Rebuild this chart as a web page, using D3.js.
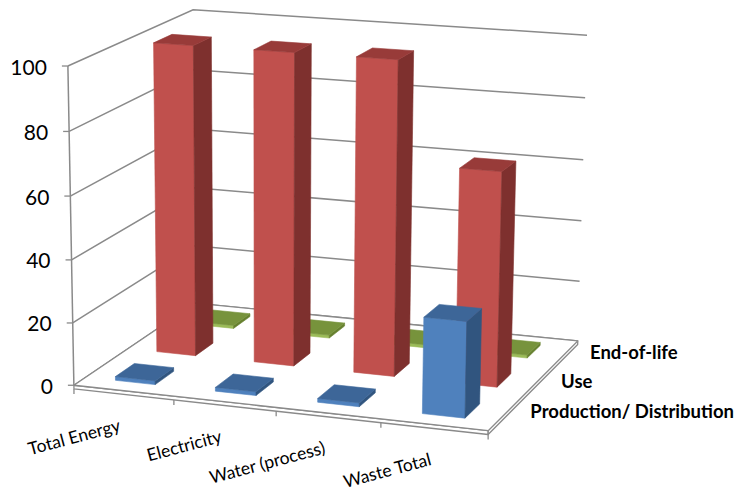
<!DOCTYPE html>
<html>
<head>
<meta charset="utf-8">
<script src="https://cdn.jsdelivr.net/npm/d3@7"></script>
<style>
  body { margin: 0; background: #fff; }
  svg { display: block; }
  text { font-family: Lato, "Liberation Sans", sans-serif; fill: #000; }
</style>
</head>
<body>
<svg id="chart" width="753" height="496"></svg>
<script>
// ── Data ──────────────────────────────────────────────────────────────────
const categories = ['Total Energy', 'Electricity', 'Water (process)', 'Waste Total'];
const series     = ['Production/ Distribution', 'Use', 'End-of-life'];   // front row to back row
const prodValues = [1.2, 1.2, 1.2, 30];
const useValues  = [100, 100, 100, 68];
const eolValues  = [1, 1, 1, 1];
const valueTicks = [0, 20, 40, 60, 80, 100];

const seriesValues = [prodValues, useValues, eolValues];
const seriesShades = [
  { front: '#4f81bd', side: '#31557f', top: '#3d6698' },
  { front: '#c0504d', side: '#7e302e', top: '#983b39' },
  { front: '#9bbb59', side: '#66802f', top: '#77933c' }
];

// ── Camera: where the corners of the unit plot box land on the page ──────
// [x, y, z, px, py]  x → right along categories, y → up, z → back
const frameAnchors = [
  [0, 0, 0,  74, 383],
  [1, 0, 0, 488, 433],
  [1, 0, 1, 578, 338],
  [0, 0, 1, 195, 306],
  [0, 1, 0,  68,  66],
  [0, 1, 1, 193,   9],
  [1, 1, 1, 587,  36]
];

function fitCamera(pts) {
  const S = 500;
  const A = [], b = [];
  pts.forEach(([X, Y, Z, u, v]) => {
    u /= S; v /= S;
    A.push([X, Y, Z, 1, 0, 0, 0, 0, -u * X, -u * Y, -u * Z]); b.push(u);
    A.push([0, 0, 0, 0, X, Y, Z, 1, -v * X, -v * Y, -v * Z]); b.push(v);
  });
  const n = 11;
  const M = d3.range(n).map(i => d3.range(n + 1).map(j => {
    let s = 0;
    for (let k = 0; k < A.length; k++) s += A[k][i] * (j < n ? A[k][j] : b[k]);
    return s;
  }));
  for (let c = 0; c < n; c++) {
    let p = c;
    for (let r = c + 1; r < n; r++) if (Math.abs(M[r][c]) > Math.abs(M[p][c])) p = r;
    [M[c], M[p]] = [M[p], M[c]];
    for (let r = 0; r < n; r++) {
      if (r === c) continue;
      const f = M[r][c] / M[c][c];
      for (let k = c; k <= n; k++) M[r][k] -= f * M[c][k];
    }
  }
  const h = M.map((row, i) => row[n] / row[i]);
  return (X, Y, Z) => {
    const w = h[8] * X + h[9] * Y + h[10] * Z + 1;
    return [S * (h[0] * X + h[1] * Y + h[2] * Z + h[3]) / w,
            S * (h[4] * X + h[5] * Y + h[6] * Z + h[7]) / w];
  };
}

const P = fitCamera(frameAnchors);

// ── Scales (all map into the unit box) ────────────────────────────────────
const x = d3.scaleBand().domain(categories).range([0, 1]).paddingInner(0.6).paddingOuter(0.3);
const z = d3.scaleBand().domain(series).range([0, 1]).paddingInner(0.55).paddingOuter(0.275);
const y = d3.scaleLinear().domain([0, 100]).range([0, 1]);
const xEdge = d3.scaleLinear().domain([0, categories.length]).range([0, 1]);
const zEdge = d3.scaleLinear().domain([0, series.length]).range([0, 1]);

const FLOOR = -1.2;   // floor slab thickness, in value units
const GRID  = '#8a8a8a';

const svg = d3.select('#chart');
const pts = arr => arr.map(p => p.join(',')).join(' ');

// ── Walls + gridlines ─────────────────────────────────────────────────────
svg.append('g')
  .selectAll('polyline')
  .data(valueTicks)
  .join('polyline')
  .attr('points', t => pts([P(0, y(t), 0), P(0, y(t), 1), P(1, y(t), 1)]))
  .attr('fill', 'none')
  .attr('stroke', GRID)
  .attr('stroke-width', 1.5);

// ── Floor slab ────────────────────────────────────────────────────────────
const f0 = y(0), f1 = y(FLOOR);
const floor = svg.append('g')
  .attr('fill', '#fff')
  .attr('stroke', GRID)
  .attr('stroke-width', 1.3)
  .attr('stroke-linejoin', 'round');
floor.append('polygon').attr('points', pts([P(0, f0, 0), P(1, f0, 0), P(1, f1, 0), P(0, f1, 0)]));
floor.append('polygon').attr('points', pts([P(1, f0, 0), P(1, f0, 1), P(1, f1, 1), P(1, f1, 0)]));
floor.append('polygon').attr('points', pts([P(0, f0, 0), P(1, f0, 0), P(1, f0, 1), P(0, f0, 1)]));

// Category tick marks along the front edge
svg.append('g')
  .selectAll('line')
  .data(d3.range(categories.length + 1))
  .join('line')
  .each(function (i) {
    const [px, py] = P(xEdge(i), f1, 0);
    d3.select(this).attr('x1', px).attr('y1', py).attr('x2', px).attr('y2', py + 5);
  })
  .attr('stroke', GRID)
  .attr('stroke-width', 1.3);

// ── Value axis ────────────────────────────────────────────────────────────
const axisG = svg.append('g');
axisG.append('line')
  .attr('x1', P(0, y(0), 0)[0]).attr('y1', P(0, y(0), 0)[1])
  .attr('x2', P(0, y(100), 0)[0]).attr('y2', P(0, y(100), 0)[1])
  .attr('stroke', GRID)
  .attr('stroke-width', 1.5);

axisG.selectAll('.tick')
  .data(valueTicks)
  .join('line')
  .attr('class', 'tick')
  .attr('x1', t => P(0, y(t), 0)[0] - 6)
  .attr('x2', t => P(0, y(t), 0)[0])
  .attr('y1', t => P(0, y(t), 0)[1])
  .attr('y2', t => P(0, y(t), 0)[1])
  .attr('stroke', GRID)
  .attr('stroke-width', 1.3);

axisG.selectAll('.tick-label')
  .data(valueTicks)
  .join('text')
  .attr('class', 'tick-label')
  .attr('x', t => P(0, y(t), 0)[0] - 21)
  .attr('y', t => P(0, y(t), 0)[1])
  .attr('text-anchor', 'end')
  .attr('dominant-baseline', 'central')
  .style('font-size', '21px')
  .text(t => t);

// ── Bars (3D boxes) ───────────────────────────────────────────────────────
function boxFaces(x0, x1, y0, y1, z0, z1) {
  return [
    { kind: 'front',  v: [P(x0, y0, z0), P(x0, y1, z0), P(x1, y1, z0), P(x1, y0, z0)] },
    { kind: 'back',   v: [P(x0, y0, z1), P(x1, y0, z1), P(x1, y1, z1), P(x0, y1, z1)] },
    { kind: 'side',   v: [P(x0, y0, z0), P(x0, y0, z1), P(x0, y1, z1), P(x0, y1, z0)] },
    { kind: 'side',   v: [P(x1, y0, z0), P(x1, y1, z0), P(x1, y1, z1), P(x1, y0, z1)] },
    { kind: 'top',    v: [P(x0, y1, z0), P(x0, y1, z1), P(x1, y1, z1), P(x1, y1, z0)] },
    { kind: 'bottom', v: [P(x0, y0, z0), P(x1, y0, z0), P(x1, y0, z1), P(x0, y0, z1)] }
  ];
}

const bars = [];
series.forEach((s, si) => {
  categories.forEach((cat, ci) => {
    bars.push({ si, ci, value: seriesValues[si][ci] });
  });
});
bars.sort((a, b) => b.si - a.si || a.ci - b.ci);   // back rows first

const barG = svg.append('g');
bars.forEach(d => {
  const x0 = x(categories[d.ci]), x1 = x0 + x.bandwidth();
  const z0 = z(series[d.si]),     z1 = z0 + z.bandwidth();
  const faces = boxFaces(x0, x1, y(0), y(d.value), z0, z1);
  const frontSign = Math.sign(d3.polygonArea(faces[0].v));
  const shade = seriesShades[d.si];
  faces
    .filter(f => Math.sign(d3.polygonArea(f.v)) === frontSign && f.kind !== 'back' && f.kind !== 'bottom')
    .forEach(f => {
      barG.append('polygon')
        .attr('points', pts(f.v))
        .attr('fill', shade[f.kind])
        .attr('stroke', shade[f.kind])
        .attr('stroke-width', 0.6)
        .attr('stroke-linejoin', 'round');
    });
});

// ── Category labels ───────────────────────────────────────────────────────
svg.append('g')
  .selectAll('text')
  .data(categories)
  .join('text')
  .attr('transform', (c, i) => {
    const [px, py] = P(xEdge(i + 0.5), y(0), 0);
    return `translate(${px - 2},${py + 40}) rotate(-15)`;
  })
  .attr('text-anchor', 'end')
  .style('font-size', '17.5px')
  .text(c => c);

// ── Series labels along the right edge of the floor ───────────────────────
svg.append('g')
  .selectAll('text')
  .data(series)
  .join('text')
  .attr('x', (s, i) => P(1, y(0), zEdge(i + 0.5))[0] + 26)
  .attr('y', (s, i) => P(1, y(0), zEdge(i + 0.5))[1] - 3)
  .attr('dominant-baseline', 'central')
  .style('font-size', '18.5px')
  .style('font-weight', 'bold')
  .text(s => s);
</script>
</body>
</html>
